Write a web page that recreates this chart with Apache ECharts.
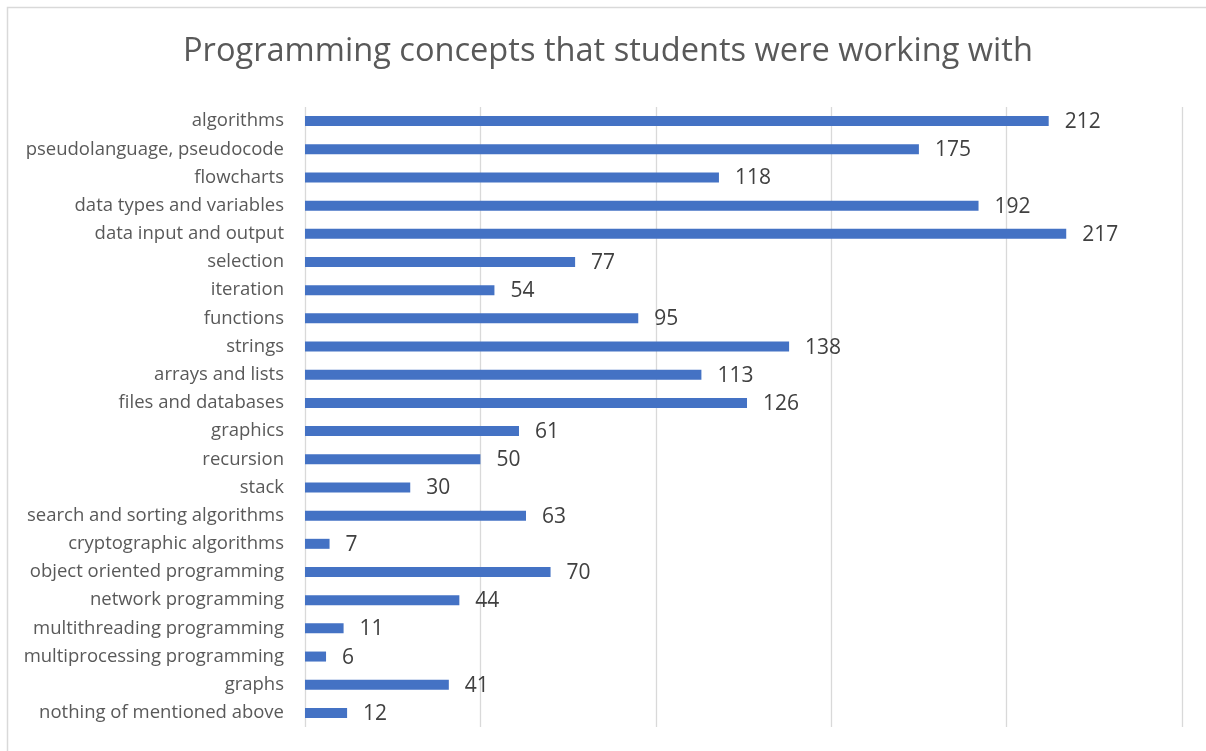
<!DOCTYPE html>
<html>
<head>
<meta charset="utf-8">
<script src="https://cdn.jsdelivr.net/npm/echarts@6/dist/echarts.min.js"></script>
<style>
  html, body { margin: 0; padding: 0; background: #ffffff; }
  #chart { width: 1206px; height: 751px; }
</style>
</head>
<body>
<div id="chart"></div>
<script>
// Concepts listed from top to bottom
const categories = [
  'algorithms',
  'pseudolanguage, pseudocode',
  'flowcharts',
  'data types and variables',
  'data input and output',
  'selection',
  'iteration',
  'functions',
  'strings',
  'arrays and lists',
  'files and databases',
  'graphics',
  'recursion',
  'stack',
  'search and sorting algorithms',
  'cryptographic algorithms',
  'object oriented programming',
  'network programming',
  'multithreading programming',
  'multiprocessing programming',
  'graphs',
  'nothing of mentioned above'
];

// Number of students per concept
const counts = [212, 175, 118, 192, 217, 77, 54, 95, 138, 113, 126, 61, 50, 30, 63, 7, 70, 44, 11, 6, 41, 12];

const chart = echarts.init(document.getElementById('chart'));
const font = '"Open Sans", "Liberation Sans", sans-serif';

chart.setOption({
  animation: false,
  backgroundColor: '#ffffff',
  title: {
    text: 'Programming concepts that students were working with',
    left: 178,
    top: 30,
    textStyle: { fontFamily: font, fontSize: 32.6, fontWeight: 'normal', color: '#595959' }
  },
  graphic: [{
    type: 'rect',
    shape: { x: 7.5, y: 7.5, width: 1220, height: 770 },
    style: { fill: 'none', stroke: '#d9d9d9', lineWidth: 1.5 },
    silent: true
  }],
  grid: { left: 305, right: 24, top: 107, bottom: 24, containLabel: false },
  xAxis: {
    type: 'value',
    min: 0,
    max: 250,
    interval: 50,
    axisLabel: { show: false },
    axisLine: { show: false },
    axisTick: { show: false },
    splitLine: { show: true, lineStyle: { color: '#d9d9d9', width: 1.3 } }
  },
  yAxis: {
    type: 'category',
    data: categories,
    inverse: true,
    axisLine: { show: false },
    axisTick: { show: false },
    axisLabel: { margin: 21, fontFamily: font, fontSize: 18.5, color: '#595959' }
  },
  series: [{
    type: 'bar',
    data: counts,
    barWidth: 10,
    itemStyle: { color: '#4472C4' },
    label: {
      show: true,
      position: 'right',
      distance: 16,
      offset: [0, 1],
      fontFamily: font,
      fontSize: 21,
      color: '#404040'
    }
  }]
});
</script>
</body>
</html>
